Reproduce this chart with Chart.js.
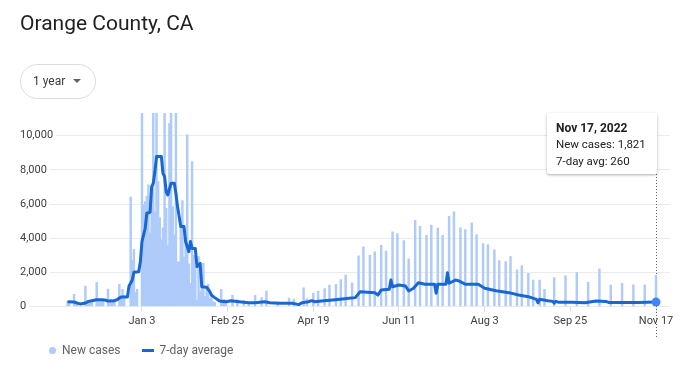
<!DOCTYPE html>
<html>
<head>
<meta charset="utf-8">
<title>Orange County, CA</title>
<script src="https://cdn.jsdelivr.net/npm/chart.js@4.4.1/dist/chart.umd.min.js"></script>
<style>
  html, body { margin: 0; padding: 0; background: #fff; }
  body { width: 690px; height: 375px; position: relative; overflow: hidden; font-family: Roboto, Arial, sans-serif; }
  #chart { position: absolute; left: 0; top: 0; }
  .title { position: absolute; left: 20px; top: 11px; font-size: 21px; line-height: 24px; color: #202124; white-space: nowrap; }
  .range-btn { position: absolute; left: 20px; top: 64px; width: 76px; height: 35px; box-sizing: border-box;
    border: 1px solid #dadce0; border-radius: 18px; background: #fff; }
  .range-btn span { position: absolute; left: 12px; top: 0; font-size: 12px; line-height: 33px; color: #3c4043; }
  .range-btn i { position: absolute; left: 52px; top: 14px; width: 0; height: 0;
    border-left: 4px solid transparent; border-right: 4px solid transparent; border-top: 4px solid #5f6368; }
  .tip { position: absolute; left: 547px; top: 113px; width: 110px; height: 61px; background: #fff;
    box-shadow: 0 1px 3px rgba(60,64,67,.3), 0 1px 2px rgba(60,64,67,.15); border-radius: 2px; z-index: 2; }
  .tip div { position: absolute; left: 9px; white-space: nowrap; color: #202124; }
  .tip .head { top: 7px; font-size: 12px; line-height: 16px; font-weight: bold; }
  .tip .l1 { top: 23px; font-size: 11.5px; line-height: 16px; }
  .tip .l2 { top: 39.5px; font-size: 11.5px; line-height: 16px; }
  .legend { position: absolute; top: 342px; left: 0; font-size: 12px; line-height: 16px; color: #5f6368; }
  .legend .dot { position: absolute; left: 49px; top: 4.5px; width: 7px; height: 7px; border-radius: 50%; background: #aecbfa; }
  .legend .dash { position: absolute; left: 141.5px; top: 7px; width: 12px; height: 2.5px; background: #1967d2; }
  .legend .t1 { position: absolute; left: 62px; top: 0; white-space: nowrap; }
  .legend .t2 { position: absolute; left: 159.5px; top: 0; white-space: nowrap; }
</style>
</head>
<body>
<canvas id="chart" width="690" height="375"></canvas>
<div class="title">Orange County, CA</div>
<div class="range-btn"><span>1 year</span><i></i></div>
<div class="tip">
  <div class="head" id="tip-date">Nov 17, 2022</div>
  <div class="l1" id="tip-cases"></div>
  <div class="l2" id="tip-avg"></div>
</div>
<div class="legend">
  <span class="dot"></span><span class="t1">New cases</span>
  <span class="dash"></span><span class="t2">7-day average</span>
</div>
<script>
// day 0 = Nov 18, 2021 ... day 364 = Nov 17, 2022
const caseDays = [
  0, 1, 4, 5, 6, 11, 12, 13, 14, 15, 18, 19, 20, 21, 22, 25, 26, 27, 28, 29, 32, 33, 34, 35,
  39, 40, 41, 42, 43, 46, 47, 48, 49, 50, 51, 52, 53, 54, 55, 56, 57, 58, 59, 60, 61, 62, 63,
  64, 65, 66, 67, 68, 69, 70, 71, 72, 73, 74, 75, 76, 77, 78, 79, 80, 81, 82, 83, 84, 85, 86,
  87, 88, 89, 90, 91, 95, 96, 97, 98,
  102, 105, 109, 112, 116, 120, 123, 130, 137, 140, 146, 148, 152, 155, 159, 162, 166, 169,
  172, 176, 180, 183, 187, 190, 194, 197, 201, 204, 208, 211, 215, 218, 222, 225, 229, 232,
  236, 239, 243, 246, 250, 253, 257, 260, 264, 267, 271, 274, 278, 281, 285, 288, 292, 295,
  301, 308, 315, 322, 329, 336, 343, 350, 357, 364
];
const newCases = [
  300, 260, 715, 230, 260, 1200, 330, 360, 300, 280, 1420, 380, 400, 360, 330, 1020, 390, 420, 400, 360, 1300, 520, 1000, 650,
  6400, 2700, 3350, 810, 1000, 12500, 5950, 6140, 6470, 7120, 4300, 6980, 13500, 5550, 12000, 7310, 5200, 3900, 4600, 12800, 5750, 3600, 10730,
  11800, 5850, 4200, 12000, 2620, 2620, 4700, 6200, 2900, 3800, 10050, 2500, 1360, 8480, 3000, 2330, 380, 2920, 870, 1800, 2530, 600, 1100,
  1300, 450, 670, 300, 250, 1000, 300, 420, 250,
  650, 400, 350, 260, 650, 520, 910, 260, 500, 430, 1090, 450, 790, 890, 1050, 1250, 1300, 1580,
  1840, 1380, 2970, 3500, 3000, 3200, 3580, 3240, 4370, 4270, 3860, 2790, 5040, 4690, 4170, 4770, 4590, 4170,
  5280, 5540, 4610, 4510, 4900, 4210, 3680, 3620, 3320, 2690, 2630, 2930, 2140, 2390, 1940, 1540, 1540, 1010,
  1700, 1800, 1980, 1420, 2200, 1250, 1350, 1270, 1270, 1821
];
const avgDays = [
  0, 4, 6, 8, 11, 13, 15, 18, 21, 23, 25, 29, 31, 33, 37, 38, 40, 41, 44, 45, 46, 48, 49, 51, 52,
  53, 54, 55, 58, 59, 60, 61, 62, 64, 66, 67, 68, 70, 72, 73, 75, 76, 77, 79, 80, 82, 83, 86, 88,
  89, 91, 94, 98, 101, 106, 112, 116, 122, 125, 131, 139, 143, 145, 149, 151, 153, 157, 164, 170,
  174, 178, 181, 190, 192, 194, 199, 200, 201, 205, 209, 211, 214, 217, 221, 227, 228, 229, 234,
  235, 236, 240, 242, 246, 254, 258, 265, 273, 279, 285, 290, 291, 292, 297, 300, 301, 302, 304,
  312, 320, 327, 333, 335, 345, 353, 364
];
const avgValues = [
  280, 265, 200, 150, 205, 300, 340, 400, 400, 380, 320, 340, 420, 560, 560, 1200, 1550, 2000, 2040, 2620, 3800, 4580, 5460, 5520, 7020,
  7220, 7900, 8780, 8780, 7800, 7600, 6720, 6530, 7220, 7220, 6630, 5850, 4680, 4680, 3800, 3210, 3800, 3400, 3400, 2330, 2530, 1160, 1130, 870,
  670, 520, 320, 280, 340, 280, 220, 220, 280, 220, 190, 190, 110, 220, 280, 340, 280, 320, 380, 440,
  480, 520, 870, 810, 670, 970, 1010, 1550, 1160, 1260, 1200, 910, 1070, 1390, 1300, 1300, 770, 1300, 1300,
  1980, 1360, 1550, 1500, 1300, 1300, 1070, 925, 810, 670, 575, 420, 220, 420, 340, 300, 200, 300, 245,
  245, 220, 320, 300, 230, 240, 240, 260
];
const xTickDays = [46, 99, 152, 205, 258, 311, 364];
const xTickLabels = ['Jan 3', 'Feb 25', 'Apr 19', 'Jun 11', 'Aug 3', 'Sep 25', 'Nov 17'];
const yTicks = [0, 2000, 4000, 6000, 8000, 10000];

const lastIdx = avgDays.length - 1;
document.getElementById('tip-cases').textContent = 'New cases: ' + newCases[newCases.length - 1].toLocaleString('en-US');
document.getElementById('tip-avg').textContent = '7-day avg: ' + avgValues[lastIdx].toLocaleString('en-US');

// dotted hover line under the tooltip
const cursorLine = {
  id: 'cursorLine',
  beforeDatasetsDraw(chart) {
    const x = Math.round(chart.scales.x.getPixelForValue(xTickDays[xTickDays.length - 1])) + 0.5;
    const ctx = chart.ctx;
    ctx.save();
    ctx.strokeStyle = '#5f6368';
    ctx.lineWidth = 1;
    ctx.setLineDash([1, 2]);
    ctx.beginPath();
    ctx.moveTo(x, 174);
    ctx.lineTo(x, 337);
    ctx.stroke();
    ctx.restore();
  }
};

new Chart(document.getElementById('chart'), {
  data: {
    datasets: [{
      type: 'line',
      label: '7-day average',
      order: 0,
      data: avgDays.map((d, i) => ({ x: d, y: avgValues[i] })),
      borderColor: '#1967d2',
      borderWidth: 3,
      borderJoinStyle: 'round',
      tension: 0,
      pointRadius: ctx => ctx.dataIndex === lastIdx ? 4.5 : 0,
      pointBackgroundColor: '#4285f4',
      pointBorderWidth: 0
    }, {
      type: 'bar',
      label: 'New cases',
      order: 1,
      data: caseDays.map((d, i) => ({ x: d, y: newCases[i] })),
      backgroundColor: '#aecbfa',
      barThickness: 1.8
    }]
  },
  options: {
    responsive: false,
    animation: false,
    events: [],
    layout: { padding: { left: 20, right: 20, top: 113, bottom: 38.5 } },
    plugins: { legend: { display: false }, tooltip: { enabled: false } },
    scales: {
      x: {
        type: 'linear',
        offset: false,
        min: -29.45,
        max: 372.65,
        afterBuildTicks: scale => { scale.ticks = xTickDays.map(v => ({ value: v })); },
        afterFit: scale => { scale.height = 30; },
        border: { display: false },
        grid: { offset: false, drawOnChartArea: false, drawTicks: true, tickLength: 5, color: '#dadce0' },
        ticks: {
          autoSkip: false, maxRotation: 0, padding: 3, color: '#3c4043',
          font: { family: 'Roboto', size: 11 },
          callback: (v, i) => xTickLabels[i]
        }
      },
      y: {
        min: 0,
        max: 11330,
        afterBuildTicks: scale => { scale.ticks = yTicks.map(v => ({ value: v })); },
        afterFit: scale => { scale.width = 0; },
        border: { display: false },
        grid: { drawTicks: false, color: '#ebebeb', lineWidth: 1 },
        ticks: {
          mirror: true, padding: 0, color: '#3c4043',
          font: { family: 'Roboto', size: 11 },
          showLabelBackdrop: true, backdropColor: '#fff',
          backdropPadding: { left: 2, right: 3, top: 1, bottom: 1 },
          callback: v => v.toLocaleString('en-US')
        }
      }
    }
  },
  plugins: [cursorLine]
});
</script>
</body>
</html>
